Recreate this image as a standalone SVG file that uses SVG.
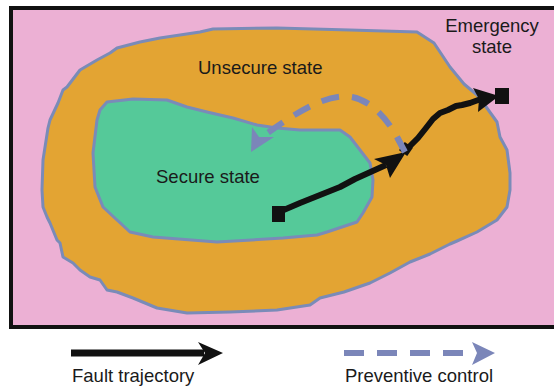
<svg xmlns="http://www.w3.org/2000/svg" width="554" height="389" viewBox="0 0 554 389">
  <defs>
    <style>
      .lbl { font-family: "Liberation Sans", Arial, sans-serif; font-size: 18.5px; fill: #1a1a1a; }
      .region { stroke: #7a8bb8; stroke-width: 3; stroke-linejoin: round; }
      .fault { fill: none; stroke: #111111; stroke-width: 6; stroke-linejoin: round; stroke-linecap: butt; }
      .fhead { fill: #111111; }
      .ctrl { fill: none; stroke: #7b86b9; stroke-width: 6; stroke-dasharray: 18 13; }
      .chead { fill: #7b86b9; }
    </style>
  </defs>
  <rect x="0" y="0" width="554" height="389" fill="#ffffff"/>

  <g id="emergency-state">
    <rect x="11" y="8" width="560" height="319" fill="#ecb0d4" stroke="#111111" stroke-width="4"/>
    <text class="lbl" x="492" y="32" text-anchor="middle">Emergency</text>
    <text class="lbl" x="492" y="53" text-anchor="middle">state</text>
  </g>

  <g id="unsecure-state">
    <path class="region" fill="#e3a433" d="M 140,42 L 117,48 110,53 97,60 80,70 67,87 63,90 58,103 50,120 48,128 43,160 42,190 43,207 47,217 50,223 57,240 60,243 63,257 73,263 80,270 90,277 100,280 107,290 117,292 133,298 157,308 187,313 230,312 277,310 310,305 320,298 344,292 370,283 390,273 410,262 430,254 450,244 457,241 477,232 497,220 507,207 510,190 510,173 507,150 500,137 497,122 484,104 483,100 464,84 450,67 434,43 417,32 350,30 277,28 213,29 200,32 160,38 Z"/>
    <text class="lbl" x="198" y="74">Unsecure state</text>
  </g>

  <g id="secure-state">
    <path class="region" fill="#55c999" d="M 100,110 L 107,102 133,99 167,100 187,107 207,112 233,118 257,125 277,128 300,130 340,130 350,137 360,150 370,163 373,180 372,197 363,213 357,222 327,232 317,235 283,238 217,242 153,237 130,232 117,220 103,207 95,187 93,153 97,120 Z"/>
    <text class="lbl" x="156" y="183">Secure state</text>
  </g>

  <g id="connectors">
    <path id="preventive" class="ctrl" d="M 405,153 C 396,132 378,102 352,97 C 328,93 300,110 266,134"/>
    <polygon class="chead" points="251,152 252,127 259,137 274,137"/>
    <path id="fault-1" class="fault" d="M 279,212 L 300,203 340,187 355,179 386,165"/>
    <polygon class="fhead" points="406,152 374,159 386,165 390,178"/>
    <rect x="401" y="144" width="10" height="10" fill="#111111" transform="rotate(35 406 149)"/>
    <path class="fault" d="M 408,148 L 418,138 426,128 433,119 440,113 448,110 456,106 462,105 470,103 481,99"/>
    <polygon class="fhead" points="499,96 473,88 479,99 478,112"/>
    <line x1="397" y1="137" x2="405" y2="152" stroke="#7b86b9" stroke-width="6"/>
    <rect x="272" y="206" width="13" height="16" fill="#111111"/>
    <rect x="495" y="88" width="14" height="16" fill="#111111"/>
  </g>

  <g id="legend">
    <line x1="71" y1="353" x2="204" y2="353" stroke="#111111" stroke-width="7"/>
    <polygon class="fhead" points="198,342 223,353 198,365 205,353"/>
    <text class="lbl" x="72" y="382">Fault trajectory</text>
    <line x1="344" y1="353" x2="464" y2="353" stroke="#7b86b9" stroke-width="6" stroke-dasharray="20 13"/>
    <polygon class="chead" points="472,342 495,353 472,365 477,353"/>
    <text class="lbl" x="345" y="382">Preventive control</text>
  </g>
</svg>
